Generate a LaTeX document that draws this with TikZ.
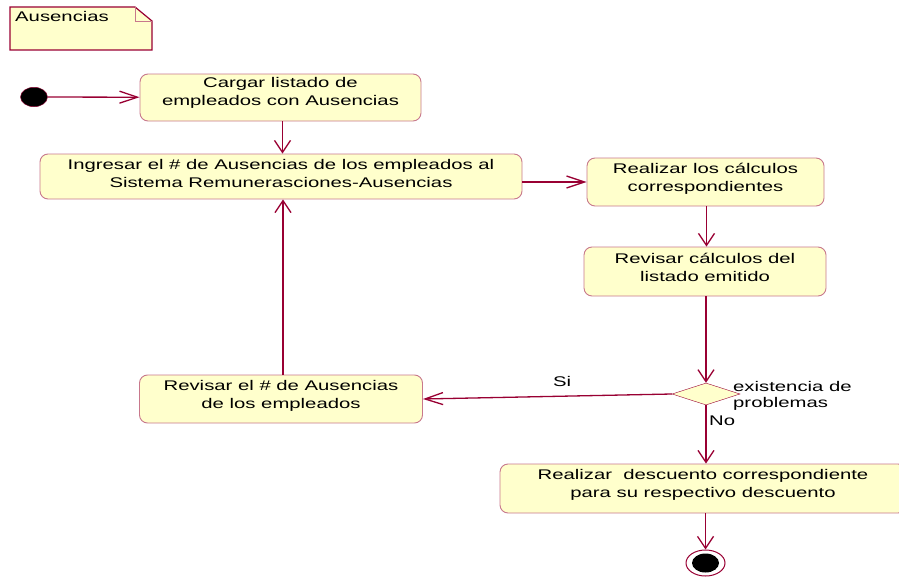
\documentclass[tikz,border=0pt]{standalone}
\usepackage{fontspec}
\setmainfont{Liberation Sans}[FakeStretch=1.45]
\usetikzlibrary{arrows.meta,shapes.geometric}
\definecolor{linea}{RGB}{153,0,51}
\definecolor{borde}{RGB}{200,120,140}
\definecolor{relleno}{RGB}{255,255,204}
\begin{document}
\begin{tikzpicture}[x=1pt,y=-1pt,
  act/.style={draw=borde,fill=relleno,rounded corners=8pt,line width=0.9pt},
  txt/.style={align=center,font=\fontsize{14}{18}\selectfont,inner sep=0pt},
  lbl/.style={font=\fontsize{14}{16}\selectfont,inner sep=0pt},
  hflecha/.style={draw=linea,line width=1.3pt,-{Straight Barb[length=18pt,width=12pt]}},
  vflecha/.style={draw=linea,line width=1.3pt,-{Straight Barb[length=12pt,width=16pt]}}]
\useasboundingbox (0,0) rectangle (899,578);
\clip (0,0) rectangle (899,578);

% nota
\draw[draw=linea,fill=relleno,line width=1.2pt](10,7)--(135,7)--(152,21)--(152,50)--(10,50)--cycle;
\draw[borde](135,7)--(135,21)--(152,21);
\node[lbl,anchor=base west] (nota) at (15,22) {Ausencias};

% actividades
\node[draw=linea,fill=black,ellipse,inner sep=0pt,minimum width=27pt,minimum height=19.5pt] (inicio) at (34,97) {};
\node[act,minimum width=281pt,minimum height=47pt] (cargar) at (280.5,97.5) {};
\node[txt] (tcargar) at ([yshift=5pt]cargar.center) {Cargar listado de\\empleados con Ausencias};
\node[act,minimum width=482pt,minimum height=45pt] (ingresar) at (281,176.5) {};
\node[txt] (tingresar) at ([yshift=3pt]ingresar.center) {Ingresar el \# de Ausencias de los empleados al\\Sistema Remunerasciones-Ausencias};
\node[act,minimum width=237pt,minimum height=48pt] (realizar) at (705.5,182) {};
\node[txt] (trealizar) at ([yshift=3.5pt]realizar.center) {Realizar los cálculos\\correspondientes};
\node[act,minimum width=242pt,minimum height=49pt] (revisar) at (705,271.5) {};
\node[txt] (trevisar) at ([yshift=4.5pt]revisar.center) {Revisar cálculos del\\listado emitido};
\node[draw=linea,fill=relleno,diamond,inner sep=0pt,minimum width=68pt,minimum height=22pt] (decision) at (706,394) {};
\node[lbl,align=left,anchor=north west] (tdecision) at (733,381) {existencia de\\problemas};
\node[act,minimum width=283pt,minimum height=48pt] (revemp) at (281,399) {};
\node[txt] (trevemp) at ([yshift=3.5pt]revemp.center) {Revisar el \# de Ausencias\\de los empleados};
\node[act,minimum width=406pt,minimum height=49pt] (descuento) at (703,488.5) {};
\node[txt] (tdescuento) at ([yshift=4pt]descuento.center) {Realizar~ descuento correspondiente\\para su respectivo descuento};
\node[draw=linea,fill=white,ellipse,line width=1pt,inner sep=0pt,minimum width=39pt,minimum height=26pt] (fin) at (705.5,563) {};
\node[fill=black,ellipse,inner sep=0pt,minimum width=27pt,minimum height=19pt] (finpunto) at (fin.center) {};

% transiciones
\draw[hflecha](inicio)--(cargar);
\draw[vflecha]([xshift=2pt]cargar.south)--([xshift=2pt]cargar.south|-ingresar.north);
\draw[hflecha](ingresar.east|-realizar.west)--(realizar.west);
\draw[vflecha]([xshift=1pt]realizar.south)--([xshift=1pt]realizar.south|-revisar.north);
\draw[vflecha](revisar.south-|decision.north)--(decision.north);
\draw[hflecha](decision.west)--(revemp.east);
\node[lbl,anchor=base west] (si) at (553,386) {Si};
\draw[vflecha]([xshift=2pt]revemp.north)--([xshift=2pt]revemp.north|-ingresar.south);
\draw[vflecha](decision.south)--(decision.south|-descuento.north);
\node[lbl,anchor=base west] (no) at (709,425) {No};
\draw[vflecha](descuento.south-|fin.north)--(fin.north);

\end{tikzpicture}
\end{document}
